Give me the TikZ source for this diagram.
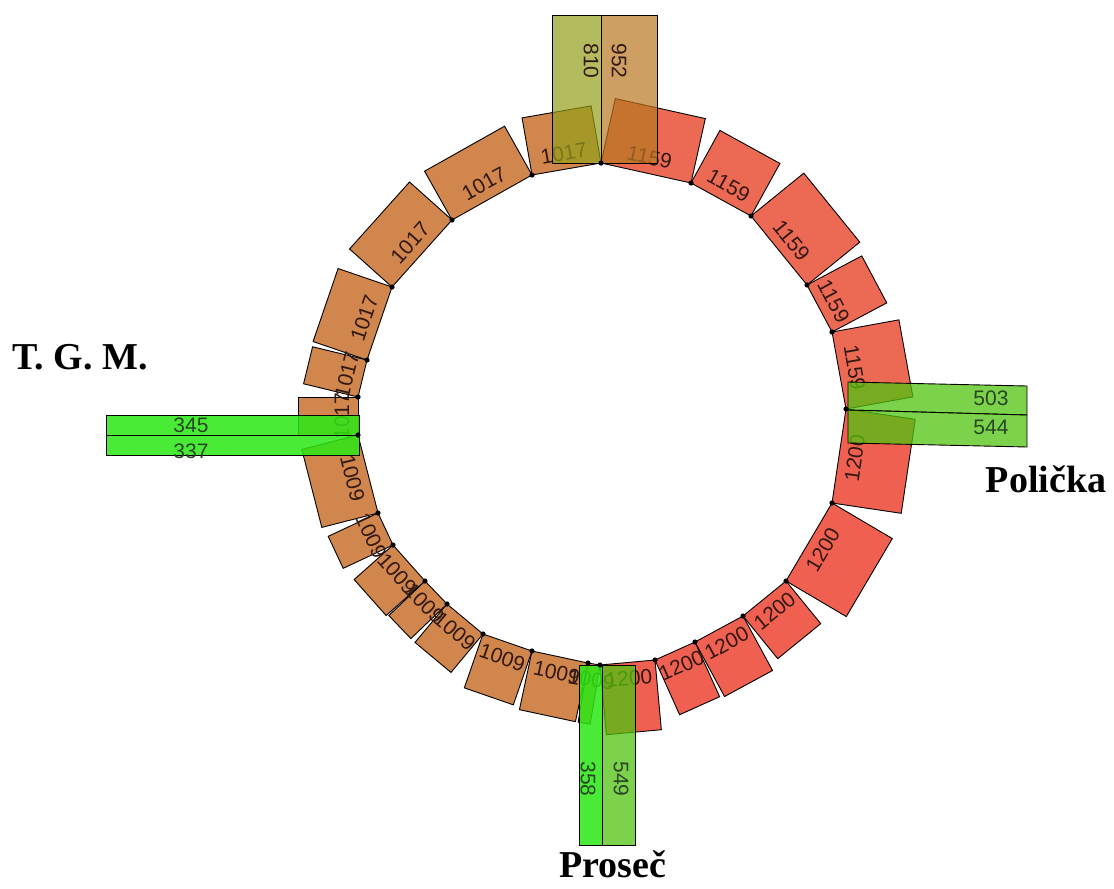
\documentclass[tikz,border=0pt]{standalone}
\usepackage{fontspec}
\newfontfamily\numfont{Liberation Sans}
\newfontfamily\namefont{Liberation Serif}
\usetikzlibrary{calc}

\definecolor{segbrown}{RGB}{208,134,76}
\definecolor{segred}{RGB}{236,106,84}
\definecolor{segscarlet}{RGB}{240,96,80}
\definecolor{labdark}{RGB}{50,25,20}
\definecolor{bargreenlab}{RGB}{40,70,35}
\definecolor{barolive}{RGB}{148,159,26}
\definecolor{bartan}{RGB}{184,119,34}
\definecolor{barbright}{RGB}{43,232,20}
\definecolor{barlight}{RGB}{81,195,15}

\begin{document}
\begin{tikzpicture}[x=1pt,y=-1pt,
  seg/.style={draw=black, line width=0.9pt},
  seglab/.style={font=\numfont\fontsize{21}{21}\selectfont, text=labdark, inner sep=0pt},
  barlab/.style={font=\numfont\fontsize{21}{21}\selectfont, text=bargreenlab, inner sep=0pt},
  armbar/.style={draw=black, line width=0.9pt, fill=#1},
  placename/.style={font=\namefont\bfseries\fontsize{38}{38}\selectfont, inner sep=0pt},
  junction/.style={fill=black}
]
\fill[white] (0,0) rectangle (1114,889);
\useasboundingbox (0,0) rectangle (1114,889);

% junction points on the ring, clockwise from the top
\coordinate (p0) at (601,163);
\coordinate (p1) at (691,183);
\coordinate (p2) at (751,216);
\coordinate (p3) at (807,285);
\coordinate (p4) at (832,332);
\coordinate (p5) at (846,409);
\coordinate (p6) at (832,503);
\coordinate (p7) at (786,581);
\coordinate (p8) at (743,616);
\coordinate (p9) at (695,642);
\coordinate (p10) at (655,660);
\coordinate (p11) at (600,665);
\coordinate (p12) at (588,663);
\coordinate (p13) at (532,651);
\coordinate (p14) at (483,634);
\coordinate (p15) at (447,604);
\coordinate (p16) at (425,581);
\coordinate (p17) at (393,545);
\coordinate (p18) at (378,513);
\coordinate (p19) at (358,435);
\coordinate (p20) at (358,397);
\coordinate (p21) at (367,360);
\coordinate (p22) at (392,287);
\coordinate (p23) at (452,220);
\coordinate (p24) at (532,175);

% ring segments: a box standing outward on each chord
\def\ringdata{
 24/0/58pt/segbrown/1017/10,
 0/1/66pt/segred/1159/-12.5,
 1/2/60pt/segred/1159/-29,
 2/3/68pt/segred/1159/-51,
 3/4/62pt/segred/1159/-62,
 4/5/68pt/segred/1159/-80,
 5/6/70pt/segscarlet/1200/81.5,
 6/7/70pt/segscarlet/1200/59.5,
 7/8/55pt/segscarlet/1200/39,
 8/9/62pt/segscarlet/1200/28.5,
 9/10/60pt/segscarlet/1200/24,
 10/11/70pt/segscarlet/1200/5,
 11/12/60pt/segbrown/1009/-9.5,
 12/13/60pt/segbrown/1009/-12,
 13/14/57pt/segbrown/1009/-19,
 14/15/50pt/segbrown/1009/-40,
 15/16/50pt/segbrown/1009/-46,
 16/17/52pt/segbrown/1009/-48,
 17/18/55pt/segbrown/1009/-65,
 18/19/58pt/segbrown/1009/-76,
 19/20/60pt/segbrown/1017/90,
 20/21/56pt/segbrown/1017/76,
 21/22/57pt/segbrown/1017/71,
 22/23/57pt/segbrown/1017/48,
 23/24/56pt/segbrown/1017/29}

\foreach \sa/\sb/\dep/\col/\lab/\rot in \ringdata {
  \filldraw[seg, fill=\col] (p\sa) -- (p\sb)
     -- ($(p\sb)!\dep!-90:(p\sa)$) -- ($(p\sa)!\dep!90:(p\sb)$) -- cycle;
}
\foreach \sa/\sb/\dep/\col/\lab/\rot in \ringdata {
  \coordinate (mid\sa) at ($(p\sa)!0.5!(p\sb)$);
  \node[seglab, rotate=\rot] (seg\sa) at ($(mid\sa)!16pt!90:(p\sb)$) {\lab};
}

% approach arms
\draw[armbar=barolive, fill opacity=0.7] (552,15) rectangle (601,163);
\draw[armbar=bartan, fill opacity=0.7] (601,15) rectangle (657,163);
\draw[armbar=barbright, fill opacity=0.85] (106,415) rectangle (359,435);
\draw[armbar=barbright, fill opacity=0.85] (106,435) rectangle (359,455);
\draw[armbar=barlight, fill opacity=0.75] (848,382) -- (1027,386) -- (1027,415) -- (848,410) -- cycle;
\draw[armbar=barlight, fill opacity=0.75] (848,410) -- (1027,415) -- (1027,447) -- (848,443) -- cycle;
\draw[armbar=barbright, fill opacity=0.85] (579,665) rectangle (602,845);
\draw[armbar=barlight, fill opacity=0.75] (602,665) rectangle (635,845);

\node[seglab, rotate=-90] (a810) at (591,61) {810};
\node[seglab, rotate=-90] (a952) at (619,61) {952};
\node[barlab] (a345) at (191,425) {345};
\node[barlab] (a337) at (191,451) {337};
\node[barlab] (a503) at (991,398) {503};
\node[barlab] (a544) at (991,427) {544};
\node[barlab, rotate=-90] (a358) at (588,779) {358};
\node[barlab, rotate=-90] (a549) at (621,779) {549};

\foreach \i in {0,...,24} \fill[junction] (p\i) circle (2.6);

% place names
\node[placename] (tgm) at (80,357) {T. G. M.};
\node[placename] (policka) at (1046,479) {Polička};
\node[placename] (prosec) at (613,864) {Proseč};
\end{tikzpicture}
\end{document}
